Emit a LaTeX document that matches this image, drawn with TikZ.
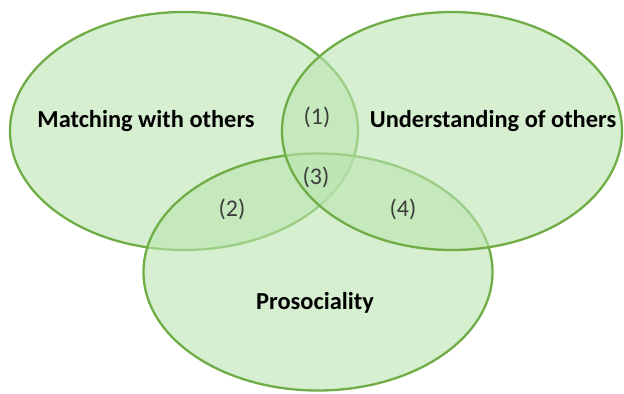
\documentclass[tikz,border=0pt]{standalone}
\usepackage{fontspec}
\setmainfont{Carlito}
\usetikzlibrary{shapes.geometric}
\definecolor{setfill}{RGB}{186,228,176}
\definecolor{setline}{RGB}{112,173,71}
\definecolor{numgray}{RGB}{60,60,60}
\tikzset{
  setshape/.style={ellipse, draw=setline, line width=2.3bp, fill=setfill, fill opacity=0.6, inner sep=0pt},
  setlabel/.style={font=\fontsize{24.5}{28}\selectfont\bfseries, text=black, inner sep=0pt},
  numlabel/.style={font=\fontsize{24}{28}\selectfont, text=numgray, inner sep=0pt}
}
\begin{document}
\begin{tikzpicture}[x=1bp,y=-1bp]
\useasboundingbox (0,0) rectangle (624,393);
\node[setshape, minimum width=348bp, minimum height=238bp] (L) at (184,131) {};
\node[setshape, minimum width=349bp, minimum height=237bp] (B) at (318,272) {};
\node[setshape, minimum width=340bp, minimum height=238bp] (R) at (452,131) {};
\node[setlabel] (tL) at (146,121) {Matching with others};
\node[setlabel] (tR) at (493,121) {Understanding of others};
\node[setlabel] (tB) at (315,303) {Prosociality};
\node[numlabel] (n1) at (317,117) {(1)};
\node[numlabel] (n2) at (232,209) {(2)};
\node[numlabel] (n3) at (316,177) {(3)};
\node[numlabel] (n4) at (403,209) {(4)};
\end{tikzpicture}
\end{document}
